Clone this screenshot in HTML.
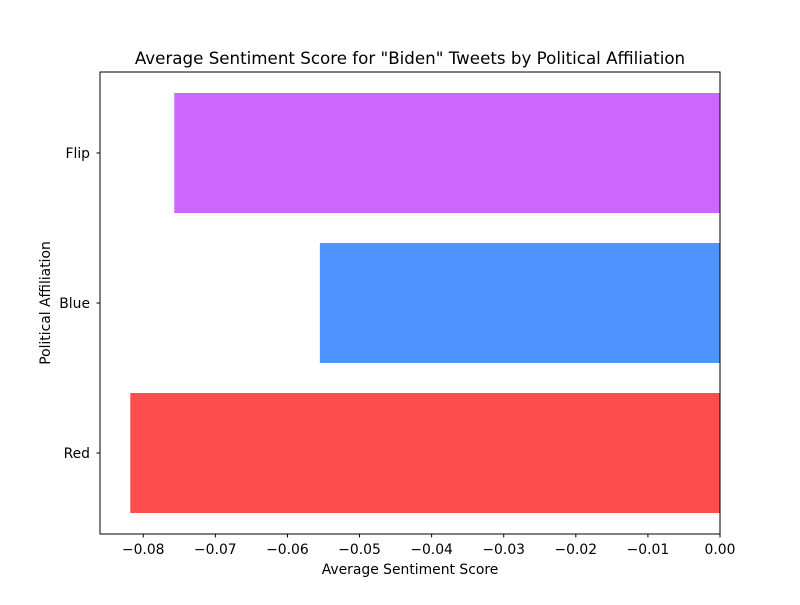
<!DOCTYPE html>
<html><head><meta charset="utf-8"><style>
body{margin:0;background:#fff;}
svg text{font-family:"DejaVu Sans","Liberation Sans",sans-serif;fill:#000;}
</style></head><body>
<svg id="chart" width="800" height="600" xmlns="http://www.w3.org/2000/svg">
<rect width="800" height="600" fill="#fff"/>
<text x="410" y="64" font-size="16.7" text-anchor="middle">Average Sentiment Score for "Biden" Tweets by Political Affiliation</text>
<text x="410" y="574" font-size="13.9" text-anchor="middle">Average Sentiment Score</text>
<text x="50" y="303" font-size="13.9" text-anchor="middle" transform="rotate(-90 50 303)">Political Affiliation</text>
<g id="bars"></g><g id="ticks"></g>
<rect x="100" y="72" width="620" height="462" fill="none" stroke="#000" stroke-width="1"/>
</svg>
<script>
const categories = ["Red", "Blue", "Flip"];
const values = [-0.0818, -0.0555, -0.0757];
const colors = ["#ff4d4d", "#4d94ff", "#cc66ff"];
const xTicks = [-0.08, -0.07, -0.06, -0.05, -0.04, -0.03, -0.02, -0.01, 0.00];
const xTickLabels = ["\u22120.08","\u22120.07","\u22120.06","\u22120.05","\u22120.04","\u22120.03","\u22120.02","\u22120.01","0.00"];

const L=100,R=720,T=72,B=534;
const xMin=-0.086,xMax=0;
const x=v=>L+(v-xMin)/(xMax-xMin)*(R-L);
const yMin=-0.54,yMax=2.54;
const y=i=>B-(i-yMin)/(yMax-yMin)*(B-T);
const NS="http://www.w3.org/2000/svg";
const bars=document.getElementById('bars'),ticks=document.getElementById('ticks');
categories.forEach((c,i)=>{
  const x0=x(values[i]),x1=x(0),yt=y(i+0.4),yb=y(i-0.4);
  const r=document.createElementNS(NS,'rect');
  r.setAttribute('x',Math.min(x0,x1));r.setAttribute('width',Math.abs(x1-x0));
  r.setAttribute('y',yt);r.setAttribute('height',yb-yt);r.setAttribute('fill',colors[i]);
  
  
  bars.appendChild(r);
  const tk=document.createElementNS(NS,'line');
  tk.setAttribute('x1',L-3.5);tk.setAttribute('x2',L);tk.setAttribute('y1',y(i));tk.setAttribute('y2',y(i));tk.setAttribute('stroke','#000');
  
  
  ticks.appendChild(tk);
  const t=document.createElementNS(NS,'text');
  t.setAttribute('x',L-10);t.setAttribute('y',y(i)+5);t.setAttribute('font-size','13.9');t.setAttribute('text-anchor','end');
  t.textContent=c;
  
  
  ticks.appendChild(t);
});
xTicks.forEach((v,i)=>{
  const tk=document.createElementNS(NS,'line');
  tk.setAttribute('x1',x(v));tk.setAttribute('x2',x(v));tk.setAttribute('y1',B);tk.setAttribute('y2',B+3.5);tk.setAttribute('stroke','#000');
  
  
  ticks.appendChild(tk);
  const t=document.createElementNS(NS,'text');
  t.setAttribute('x',x(v));t.setAttribute('y',B+20);t.setAttribute('font-size','13.9');t.setAttribute('text-anchor','middle');
  t.textContent=xTickLabels[i];
  
  
  ticks.appendChild(t);
});
</script>
</body></html>
